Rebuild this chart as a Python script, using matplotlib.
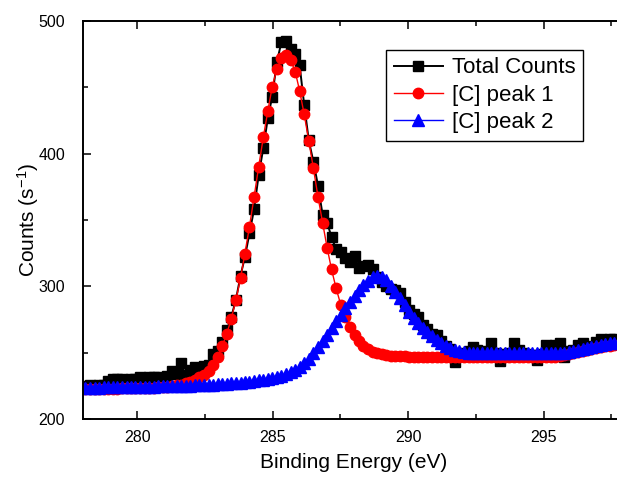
import matplotlib
matplotlib.use('Agg')
import matplotlib.pyplot as plt
from matplotlib.ticker import MultipleLocator

plt.rcParams['font.family'] = ['Liberation Sans', 'DejaVu Sans']
plt.rcParams['mathtext.fontset'] = 'custom'
plt.rcParams['mathtext.rm'] = 'Liberation Sans'
plt.rcParams['mathtext.default'] = 'regular'

# binding energy (eV)
energy = [278.08, 278.25, 278.42, 278.59, 278.75, 278.92, 279.09, 279.26, 279.43, 279.60,
          279.76, 279.93, 280.10, 280.27, 280.44, 280.61, 280.77, 280.94, 281.11, 281.28,
          281.45, 281.62, 281.78, 281.95, 282.12, 282.29, 282.46, 282.63, 282.80, 282.96,
          283.13, 283.30, 283.47, 283.64, 283.81, 283.97, 284.14, 284.31, 284.48, 284.65,
          284.82, 284.98, 285.15, 285.32, 285.49, 285.66, 285.83, 285.99, 286.16, 286.33,
          286.50, 286.67, 286.84, 287.01, 287.17, 287.34, 287.51, 287.68, 287.85, 288.02,
          288.18, 288.35, 288.52, 288.69, 288.86, 289.03, 289.19, 289.36, 289.53, 289.70,
          289.87, 290.04, 290.20, 290.37, 290.54, 290.71, 290.88, 291.05, 291.22, 291.38,
          291.55, 291.72, 291.89, 292.06, 292.23, 292.39, 292.56, 292.73, 292.90, 293.07,
          293.24, 293.40, 293.57, 293.74, 293.91, 294.08, 294.25, 294.41, 294.58, 294.75,
          294.92, 295.09, 295.26, 295.43, 295.59, 295.76, 295.93, 296.10, 296.27, 296.44,
          296.60, 296.77, 296.94, 297.11, 297.28, 297.45, 297.61, 297.78, 297.95]

total_counts = [225.0, 225.5, 225.0, 226.0, 225.5, 229.0, 230.0, 230.5, 230.0, 229.5,
                230.0, 230.5, 231.5, 231.0, 232.0, 231.5, 232.0, 231.0, 232.5, 236.0,
                234.0, 242.0, 233.0, 237.0, 239.0, 238.0, 240.0, 241.0, 249.0, 251.0,
                258.0, 267.0, 277.0, 290.0, 308.0, 322.0, 340.0, 358.0, 384.0, 404.0,
                427.0, 443.0, 469.0, 484.0, 485.0, 479.0, 475.0, 467.0, 437.0, 410.0,
                394.0, 376.0, 354.0, 348.0, 337.0, 328.0, 326.0, 321.0, 318.0, 323.0,
                314.0, 315.0, 316.0, 313.0, 307.0, 303.0, 300.0, 298.0, 297.0, 295.0,
                288.0, 282.0, 279.0, 277.0, 271.0, 268.0, 264.0, 263.0, 259.0, 255.0,
                253.0, 243.0, 249.0, 250.0, 251.0, 254.0, 252.0, 250.0, 251.0, 257.0,
                250.0, 243.5, 249.0, 250.0, 257.0, 252.0, 250.0, 249.0, 248.0, 244.5,
                249.0, 255.5, 253.0, 256.0, 257.0, 247.0, 251.0, 252.0, 256.0, 257.0,
                253.0, 255.0, 258.0, 260.0, 259.0, 260.5, 260.0, 259.0, 260.0]

peak1 = [222.6, 222.6, 222.7, 222.7, 222.8, 222.8, 222.9, 222.9, 223.0, 223.0,
         223.1, 223.2, 223.3, 223.4, 223.5, 223.7, 223.9, 224.1, 224.4, 224.8,
         225.3, 226.0, 226.9, 228.0, 229.5, 231.3, 233.5, 236.5, 240.6, 246.6,
         254.8, 264.1, 275.7, 289.7, 306.1, 324.7, 345.0, 367.3, 390.2, 412.2,
         432.4, 450.5, 463.6, 471.9, 474.4, 470.6, 461.8, 447.5, 429.7, 409.8,
         389.0, 367.6, 348.0, 328.9, 312.8, 298.5, 286.2, 277.1, 269.6, 263.3,
         258.5, 255.0, 252.5, 250.8, 249.6, 248.8, 248.2, 247.8, 247.5, 247.3,
         247.2, 247.1, 247.1, 247.0, 247.0, 247.0, 247.0, 247.0, 247.0, 247.0,
         247.0, 247.0, 247.0, 247.0, 247.0, 247.0, 247.0, 247.0, 247.0, 247.0,
         247.0, 247.0, 247.0, 247.0, 247.0, 247.0, 247.0, 247.0, 247.0, 247.0,
         247.0, 247.0, 247.0, 247.0, 247.6, 248.2, 248.9, 249.7, 250.5, 251.3,
         252.1, 252.8, 253.5, 254.1, 254.7, 255.2, 255.6, 256.0, 256.3]

peak2 = [223.6, 223.6, 223.7, 223.7, 223.8, 223.8, 223.9, 223.9, 224.0, 224.0,
         224.1, 224.1, 224.2, 224.3, 224.3, 224.4, 224.5, 224.6, 224.7, 224.8,
         224.9, 225.0, 225.1, 225.2, 225.3, 225.5, 225.6, 225.8, 226.0, 226.2,
         226.4, 226.6, 226.9, 227.2, 227.5, 227.8, 228.2, 228.6, 229.1, 229.6,
         230.2, 230.9, 231.7, 232.6, 233.8, 235.5, 237.3, 239.5, 242.0, 245.5,
         249.5, 254.0, 258.8, 263.6, 268.5, 273.5, 278.6, 283.6, 288.3, 292.6,
         296.9, 300.8, 304.3, 306.9, 308.0, 307.0, 304.5, 300.5, 296.0, 291.2,
         286.0, 281.0, 276.5, 272.5, 268.8, 265.4, 262.3, 259.5, 257.2, 255.2,
         253.5, 252.2, 251.2, 250.5, 250.0, 249.7, 249.5, 249.4, 249.4, 249.4,
         249.4, 249.4, 249.4, 249.4, 249.4, 249.4, 249.4, 249.4, 249.4, 249.4,
         249.4, 249.4, 249.4, 249.4, 249.7, 250.1, 250.7, 251.4, 252.1, 252.9,
         253.7, 254.4, 255.1, 255.8, 256.4, 257.0, 257.5, 257.9, 258.2]

x_ticks = [280, 285, 290, 295]
y_ticks = [200, 300, 400, 500]

fig = plt.figure(figsize=(6.17, 4.78), dpi=100)
ax = fig.add_axes([83.2 / 617, 59 / 478, (624.8 - 83.2) / 617, 398 / 478])

ax.plot(energy, total_counts, '-s', color='black', ms=6.5, lw=1.4, label='Total Counts')
ax.plot(energy, peak1, '-o', color='red', ms=7.5, lw=1, label='[C] peak 1')
ax.plot(energy, peak2, '-^', color='blue', ms=8, lw=1, label='[C] peak 2')

ax.set_xlim(278, 298)
ax.set_ylim(200, 500)
ax.set_xticks(x_ticks)
ax.set_yticks(y_ticks)
ax.xaxis.set_minor_locator(MultipleLocator(2.5))
ax.yaxis.set_minor_locator(MultipleLocator(50))
ax.tick_params(which='both', direction='in', top=True, right=True, width=1.1)
ax.tick_params(which='major', length=5.5, labelsize=11.5)
ax.tick_params(axis='x', which='major', pad=8)
ax.tick_params(axis='y', which='major', pad=13)
ax.tick_params(which='minor', length=3.5)
for sp in ax.spines.values():
    sp.set_linewidth(1.4)

ax.set_xlabel('Binding Energy (eV)', fontsize=15, labelpad=6)
ax.set_ylabel('Counts (s$^{-1}$)', fontsize=15, labelpad=-2)

leg = ax.legend(loc='upper left', bbox_to_anchor=(386 / 617, 1 - 49.5 / 478),
                bbox_transform=fig.transFigure, fancybox=False, framealpha=1,
                edgecolor='black', borderaxespad=0, fontsize=16,
                handlelength=2.2, handletextpad=0.4, labelspacing=0.28, borderpad=0.35)
leg.get_frame().set_linewidth(1.0)

fig.savefig('out.png', dpi=100)
